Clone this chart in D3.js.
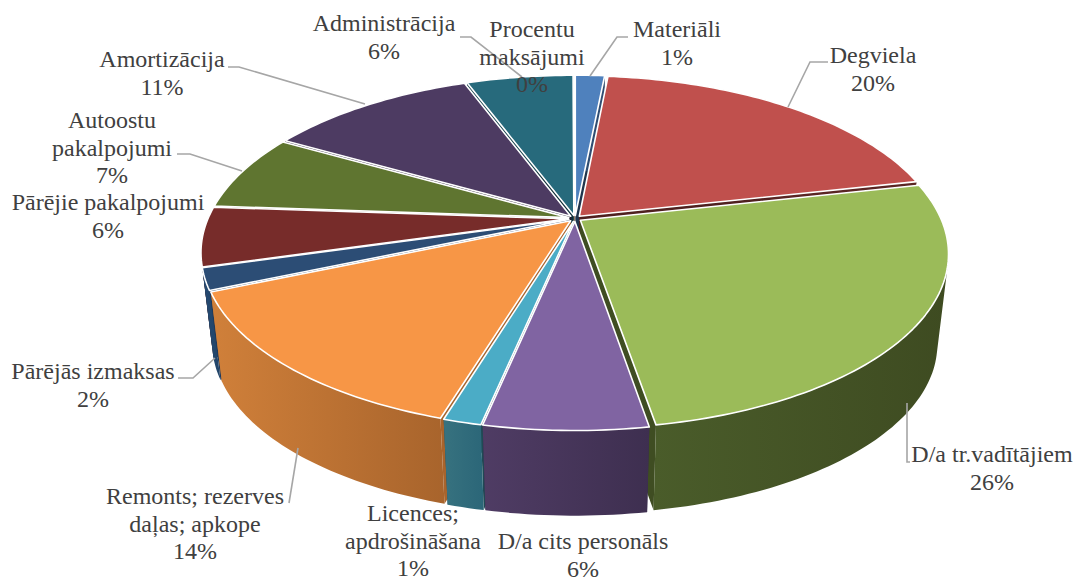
<!DOCTYPE html>
<html>
<head>
<meta charset="utf-8">
<script src="https://cdn.jsdelivr.net/npm/d3@7"></script>
<style>
body { margin: 0; background: #fff; }
text { font-family: "Liberation Serif", serif; font-size: 24px; fill: #404040; }
</style>
</head>
<body>
<svg id="chart" width="1075" height="577"></svg>
<script>
// values in percent
var categories = ["Materiāli", "Degviela", "D/a tr.vadītājiem", "D/a cits personāls",
    "Licences; apdrošināšana", "Remonts; rezerves daļas; apkope", "Pārējās izmaksas",
    "Pārējie pakalpojumi", "Autoostu pakalpojumi", "Amortizācija", "Administrācija",
    "Procentu maksājumi"];
var values = [1.55, 20, 25.8, 6, 1.4, 13.9, 2, 5.5, 7.1, 11.1, 5.65, 0.05];
var percentLabels = ["1%", "20%", "26%", "6%", "1%", "14%", "2%", "6%", "7%", "11%", "6%", "0%"];
var topColors = ["#4f81bd", "#c0504d", "#9bbb59", "#8064a2", "#4bacc6", "#f79646",
    "#2c4d75", "#772c2a", "#5f7530", "#4d3b62", "#276a7c", "#b65708"];
// side wall shading, left to right
var wallLeft = ["#2f4d72", "#5a2523", "#4a5c2a", "#4f3c64", "#37727f", "#d0803a",
    "#254a72", "#4a1c1b", "#3c4a1e", "#30253e", "#18434e", "#7a3a05"];
var wallRight = ["#2f4d72", "#5a2523", "#3e4b21", "#3e2f50", "#2b6678", "#a8642c",
    "#224468", "#4a1c1b", "#3c4a1e", "#30253e", "#18434e", "#7a3a05"];
var radialColors = ["#20354d", "#4f201f", "#3f4d22", "#34294a", "#1f4a55", "#a8642c",
    "#1f3a5c", "#3a1515", "#2e3a17", "#241b30", "#102f38", "#5a2b04"];

// label layout: wrapped lines, centre x, first baseline
var labelLayout = [
    { name: categories[0], lines: ["Materiāli", percentLabels[0]], x: 677, y: 37 },
    { name: categories[1], lines: ["Degviela", percentLabels[1]], x: 873, y: 63 },
    { name: categories[2], lines: ["D/a tr.vadītājiem", percentLabels[2]], x: 992, y: 462 },
    { name: categories[3], lines: ["D/a cits personāls", percentLabels[3]], x: 583, y: 549 },
    { name: categories[4], lines: ["Licences;", "apdrošināšana", percentLabels[4]], x: 413, y: 521 },
    { name: categories[5], lines: ["Remonts; rezerves", "daļas; apkope", percentLabels[5]], x: 195, y: 504 },
    { name: categories[6], lines: ["Pārējās izmaksas", percentLabels[6]], x: 93, y: 379 },
    { name: categories[7], lines: ["Pārējie pakalpojumi", percentLabels[7]], x: 108, y: 210 },
    { name: categories[8], lines: ["Autoostu", "pakalpojumi", percentLabels[8]], x: 112, y: 128 },
    { name: categories[9], lines: ["Amortizācija", percentLabels[9]], x: 162, y: 67 },
    { name: categories[10], lines: ["Administrācija", percentLabels[10]], x: 384, y: 31 },
    { name: categories[11], lines: ["Procentu", "maksājumi", percentLabels[11]], x: 532, y: 37 }
];
var leaders = [
    [[590, 76], [617, 37], [628, 37]],
    [[788, 107], [810, 62], [828, 62]],
    [[907, 403], [907, 462], [910, 462]],
    [[298, 448], [289, 503]],
    [[215, 358], [193, 378], [178, 378]],
    [[242, 171], [190, 154], [177, 154]],
    [[365, 104], [239, 67], [228, 67]],
    [[522, 77], [471, 37], [460, 37]]
];

var cx = 575, topCy = 218.5, baseCy = 310;
var A = 360.5, B = 168, k = 0.19;   // perspective of the disc
var baseScale = 0.97;
var explode = 0.018;

var svg = d3.select("#chart");
var defs = svg.append("defs");
var line = d3.line();

// disc coordinates -> screen
function project(px, py, level) {
    var w = 1 + k * py;
    var s = level ? baseScale : 1;
    return [cx + s * A * px / w, (level ? baseCy : topCy) - s * B * py / w];
}

var arcs = d3.pie().sort(null).value(function (d) { return d; })(values);

function arcPoints(d, level) {
    var mid = (d.startAngle + d.endAngle) / 2;
    var ox = explode * Math.sin(mid), oy = explode * Math.cos(mid);
    var n = Math.max(2, Math.ceil((d.endAngle - d.startAngle) / 0.02));
    return d3.range(n + 1).map(function (i) {
        var a = d.startAngle + (d.endAngle - d.startAngle) * i / n;
        return project(ox + Math.sin(a), oy + Math.cos(a), level);
    });
}
function apex(d, level) {
    var mid = (d.startAngle + d.endAngle) / 2;
    return project(explode * Math.sin(mid), explode * Math.cos(mid), level);
}

// the wall is a strip of quads, all wound the same way so they fill as a union
function wallPath(top, base) {
    var out = "";
    for (var i = 0; i < top.length - 1; i++) {
        var q = [top[i], top[i + 1], base[i + 1], base[i]];
        if (d3.polygonArea(q) < 0) q.reverse();
        out += line(q) + "Z";
    }
    return out;
}

// back to front
var order = arcs.slice().sort(function (a, b) {
    return Math.cos((b.startAngle + b.endAngle) / 2) - Math.cos((a.startAngle + a.endAngle) / 2);
});

order.forEach(function (d) {
    var color = topColors[d.index];
    var top = arcPoints(d, 0), base = arcPoints(d, 1);
    var g = svg.append("g").attr("class", "slice");

    var xr = d3.extent(top.concat(base), function (p) { return p[0]; });
    var gradId = "wall" + d.index;
    var grad = defs.append("linearGradient").attr("id", gradId)
        .attr("gradientUnits", "userSpaceOnUse")
        .attr("x1", xr[0]).attr("x2", xr[1]).attr("y1", 0).attr("y2", 0);
    grad.append("stop").attr("offset", "0%").attr("stop-color", wallLeft[d.index]);
    grad.append("stop").attr("offset", "100%").attr("stop-color", wallRight[d.index]);

    // radial walls
    [[top[0], base[0]], [top[top.length - 1], base[base.length - 1]]].forEach(function (e) {
        g.append("path")
            .attr("d", line([apex(d, 0), e[0], e[1], apex(d, 1)]) + "Z")
            .attr("fill", radialColors[d.index])
            .attr("stroke", "none");
    });
    // outer wall
    g.append("path")
        .attr("d", wallPath(top, base))
        .attr("fill", "url(#" + gradId + ")")
        .attr("stroke", "none");
    // top face
    g.append("path")
        .attr("d", line([apex(d, 0)].concat(top)) + "Z")
        .attr("fill", color)
        .attr("stroke", "#fff").attr("stroke-width", 1.6)
        .attr("stroke-linejoin", "round");
});

svg.selectAll("path.leader").data(leaders).enter().append("path")
    .attr("class", "leader")
    .attr("d", function (d) { return line(d); })
    .attr("fill", "none").attr("stroke", "#a6a6a6").attr("stroke-width", 1.6);

labelLayout.forEach(function (l) {
    var t = svg.append("text").attr("text-anchor", "middle");
    l.lines.forEach(function (s, i) {
        t.append("tspan").attr("x", l.x).attr("y", l.y + i * 27.5).text(s);
    });
});
</script>
</body>
</html>
